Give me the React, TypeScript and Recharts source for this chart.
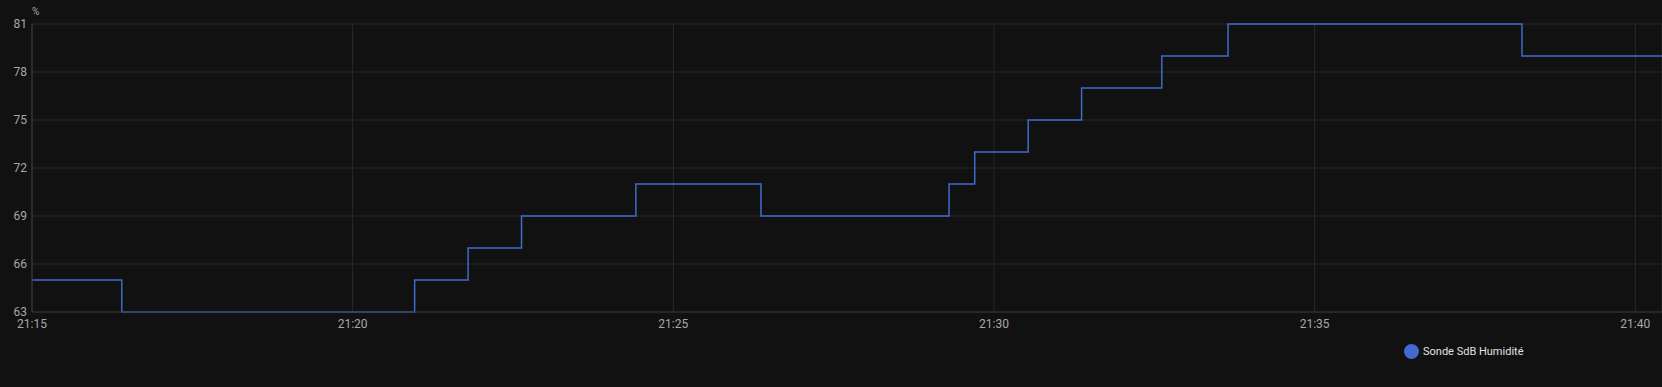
import { LineChart, Line, XAxis, YAxis, CartesianGrid } from 'recharts';

// seconds after 21:15, humidity %
const times = [0, 84, 358, 408, 458, 565, 682, 858, 882, 932, 982, 1057, 1119, 1394, 1525];
const humidity = [65, 63, 65, 67, 69, 71, 69, 71, 73, 75, 77, 79, 81, 79, 79];
const xTicks = [0, 300, 600, 900, 1200, 1500];
const xTickLabels = ['21:15', '21:20', '21:25', '21:30', '21:35', '21:40'];
const yTicks = [63, 66, 69, 72, 75, 78, 81];
const seriesName = 'Sonde SdB Humidité';

const data = times.map((t, i) => ({ t, v: humidity[i] }));

const font = 'Roboto, "Noto Sans", sans-serif';
const lineColor = '#4269d0';

export default function App() {
  return (
    <div style={{ position: 'absolute', left: 0, top: 0, width: 1662, height: 387, background: '#111111', fontFamily: font }}>
      <LineChart width={1662} height={387} data={data} margin={{ top: 24, right: 0, left: 0, bottom: 45 }}>
        <CartesianGrid stroke="#2a2a2a" strokeWidth={1} />
        <XAxis
          dataKey="t"
          type="number"
          domain={[0, 1525]}
          ticks={xTicks}
          tickFormatter={(v: number) => xTickLabels[xTicks.indexOf(v)] ?? ''}
          height={30}
          tickLine={false}
          tickSize={0}
          tickMargin={7}
          axisLine={{ stroke: '#333333' }}
          tick={{ fill: '#a8a8a8', fontSize: 12, fontFamily: font }}
          allowDataOverflow
        />
        <YAxis
          type="number"
          domain={[63, 81]}
          ticks={yTicks}
          width={32}
          tickLine={false}
          tickSize={0}
          tickMargin={5}
          axisLine={{ stroke: '#3a3a3a' }}
          tick={{ fill: '#a8a8a8', fontSize: 12, fontFamily: font }}
        />
        <Line
          type="stepAfter"
          dataKey="v"
          name={seriesName}
          stroke={lineColor}
          strokeWidth={1.5}
          dot={false}
          isAnimationActive={false}
        />
      </LineChart>
      <div style={{ position: 'absolute', left: 32, top: 6, fontSize: 10, color: '#a8a8a8' }}>%</div>
      <div style={{ position: 'absolute', left: 1404, top: 344, display: 'flex', alignItems: 'center', fontSize: 11, color: '#e1e1e1' }}>
        <span style={{ width: 15, height: 15, borderRadius: '50%', background: lineColor, display: 'inline-block', marginRight: 4 }} />
        <span>{seriesName}</span>
      </div>
    </div>
  );
}
